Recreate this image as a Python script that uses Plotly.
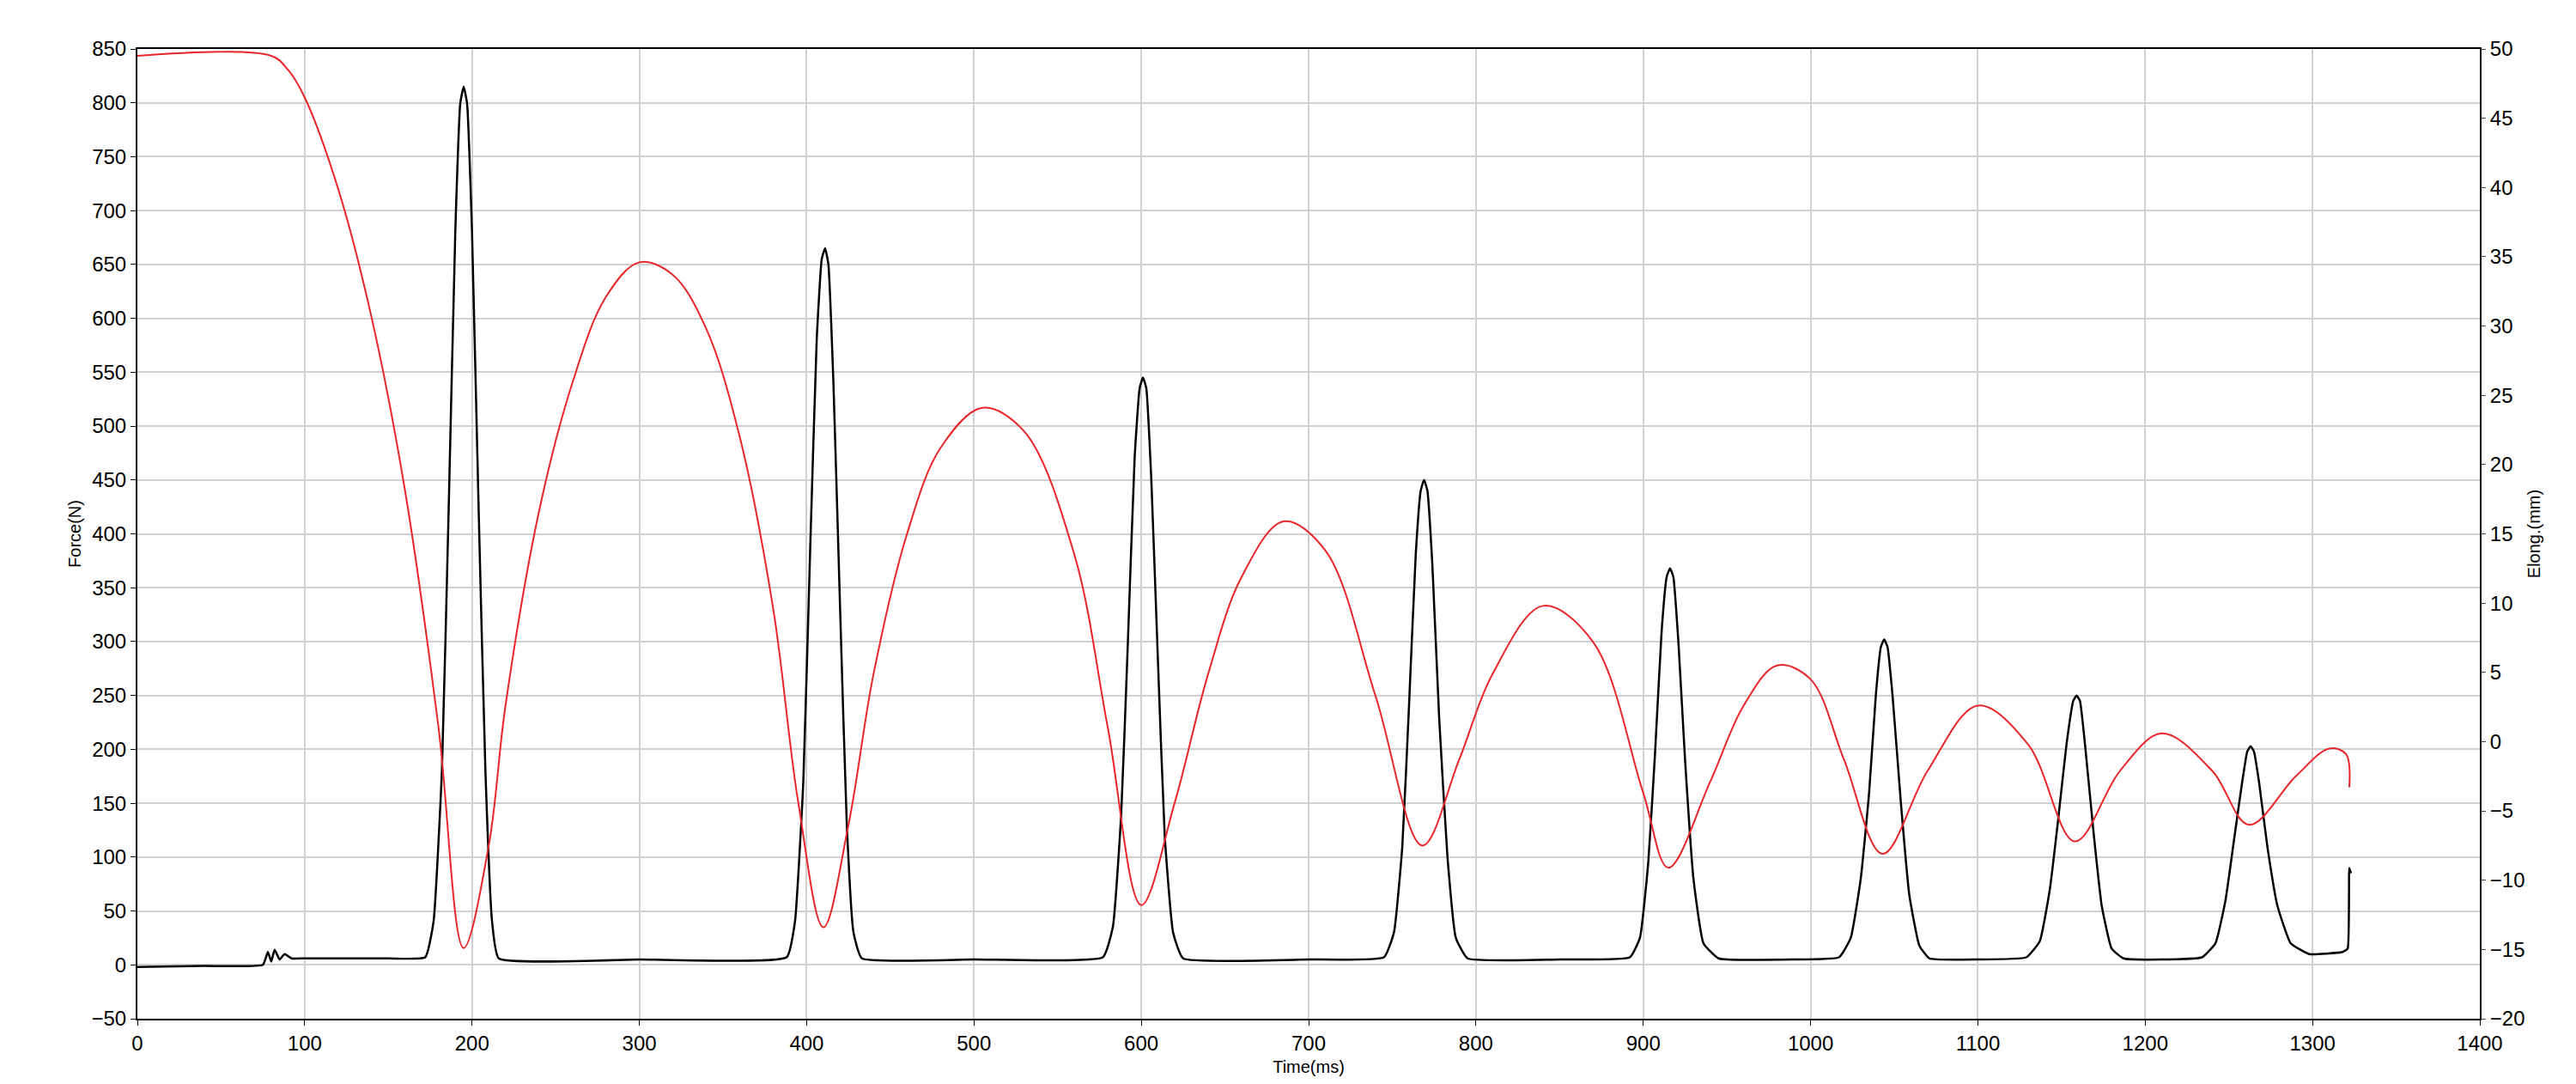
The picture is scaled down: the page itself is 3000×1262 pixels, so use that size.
import plotly.graph_objects as go

# Force (N), black
force_t = [0, 40, 75, 78, 80, 82, 85, 88, 92, 100, 150, 172,
           177, 182, 186, 190, 193, 195, 197, 200, 204, 208, 212, 216,
           300, 388, 393, 398, 402, 406, 409, 411, 413, 416, 420, 424, 428, 433,
           500, 577, 583, 588, 592, 596, 599, 601, 603, 606, 610, 614, 619, 625,
           700, 745, 751, 756, 760, 764, 767, 769, 771, 774, 778, 783, 788, 795,
           850, 892, 898, 903, 907, 911, 914, 916, 918, 921, 925, 930, 936, 945,
           990, 1017, 1024, 1030, 1035, 1039, 1042, 1044, 1046, 1049, 1054, 1059, 1065, 1071,
           1100, 1129, 1137, 1143, 1148, 1153, 1157, 1159, 1161, 1164, 1169, 1174, 1180, 1187,
           1210, 1234, 1242, 1248, 1253, 1258, 1261, 1263, 1265, 1268, 1273, 1279, 1287, 1298,
           1318, 1321, 1322, 1323]
force_v = [-2, -1, 0, 12, 3, 14, 5, 10, 6, 6, 6, 7,
           40, 180, 420, 680, 800, 815, 800, 680, 420, 180, 40, 6,
           5, 7, 40, 170, 380, 580, 655, 665, 650, 540, 330, 130, 30, 6,
           5, 7, 35, 140, 300, 470, 535, 545, 535, 450, 280, 120, 30, 6,
           5, 7, 30, 110, 240, 380, 440, 450, 440, 370, 230, 100, 25, 6,
           5, 7, 25, 95, 195, 310, 360, 368, 360, 300, 190, 80, 20, 6,
           5, 7, 25, 80, 160, 250, 295, 302, 295, 250, 150, 65, 18, 6,
           5, 7, 22, 70, 135, 205, 245, 250, 245, 205, 125, 55, 15, 6,
           5, 7, 20, 60, 115, 170, 198, 203, 198, 170, 110, 55, 20, 10,
           12, 15, 90, 85]

# Elongation (mm), red
elong_t = [0, 80, 90, 100, 120, 140, 160, 180, 195, 210, 220, 240, 260, 280, 300,
           320, 340, 360, 380, 395, 410, 425, 440, 460, 480, 505, 530, 560, 580, 600,
           620, 640, 660, 685, 710, 740, 768, 790, 810, 840, 870, 900, 915, 940, 960,
           980, 1000, 1020, 1043, 1070, 1100, 1130, 1158, 1185, 1210, 1240, 1262, 1290,
           1310, 1320, 1322]
elong_v = [49.5, 49.5, 48.5, 46.5, 39.9, 30.6, 18.1, 1.0, -14.9, -7.5, 2.6, 16.6, 25.9, 32.1, 34.6,
           33.7, 29.8, 22.0, 9.6, -4.4, -13.4, -6.0, 4.9, 15.0, 21.2, 24.1, 22.4, 13.5, 1.0, -11.8,
           -4.4, 4.9, 11.9, 15.9, 13.8, 3.3, -7.5, -1.3, 4.9, 9.8, 7.2, -3.7, -9.1, -2.9, 2.6,
           5.5, 4.5, -1.3, -8.1, -2.1, 2.6, -0.2, -7.2, -2.1, 0.6, -2.1, -6.0, -2.5,
           -0.5, -0.9, -3.3]

fig = go.Figure()
fig.add_trace(go.Scatter(x=elong_t, y=elong_v, yaxis="y2", mode="lines",
                         line=dict(color="#e8262a", width=2, shape="spline", smoothing=1.0)))
fig.add_trace(go.Scatter(x=force_t, y=force_v, mode="lines",
                         line=dict(color="black", width=2.5, shape="spline", smoothing=0.4)))

ax = dict(showline=True, linecolor="black", linewidth=2, mirror=True, ticks="outside",
          ticklen=6, tickcolor="black", zeroline=False)
fig.update_layout(
    width=3000, height=1262, showlegend=False,
    paper_bgcolor="white", plot_bgcolor="white",
    font=dict(family="Liberation Sans, Arial", size=24, color="black"),
    margin=dict(l=152, r=120, t=49, b=84),
    xaxis=dict(range=[0, 1400], dtick=100, showgrid=True, gridcolor="#d0d0d0", gridwidth=2,
               title=dict(text="Time(ms)", font=dict(size=20), standoff=8), **ax),
    yaxis=dict(range=[-50, 850], dtick=50, showgrid=True, gridcolor="#d0d0d0", gridwidth=2,
               title=dict(text="Force(N)", font=dict(size=20), standoff=6), **ax),
    yaxis2=dict(range=[-20, 50], dtick=5, overlaying="y", side="right", showgrid=False,
                showline=False, ticks="outside", ticklen=6, zeroline=False,
                title=dict(text="Elong.(mm)", font=dict(size=20), standoff=4)),
)
fig.write_html("out.html")
